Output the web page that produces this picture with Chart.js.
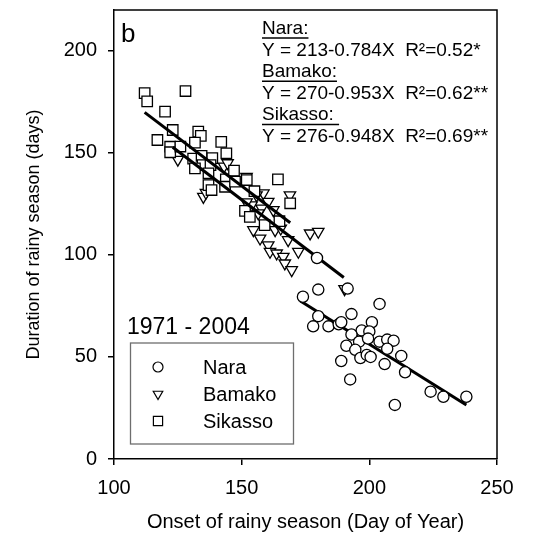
<!DOCTYPE html>
<html>
<head>
<meta charset="utf-8">
<script src="https://cdn.jsdelivr.net/npm/chart.js@4/dist/chart.umd.min.js"></script>
<style>
  html, body { margin: 0; padding: 0; background: #fff; }
  canvas { display: block; }
</style>
</head>
<body>
<canvas id="chart" width="533" height="541"></canvas>
<script>
// Onset (day of year) and duration (days) of the rainy season, 1971 - 2004
const naraOnset = [174, 180, 179.5, 204, 180, 178, 184, 188, 189, 193, 201, 197, 200, 193, 191, 196, 199.5, 204, 207, 209.5, 194.5, 196.5, 199, 200.5, 206, 207, 212.5, 214, 189, 192.5, 210, 224, 229, 238, 191.5];
const naraDuration = [79.5, 83, 98.5, 76, 70, 65, 65, 66, 67, 71, 67, 63, 62.5, 61, 55.5, 57.5, 59, 57.5, 58.5, 58, 53.5, 49.5, 51, 50, 46.5, 54, 50.5, 42.5, 48, 39, 26.5, 33, 30.5, 30.5, 83.5];

const bamakoOnset = [125, 135, 136, 143.1, 144.5, 151.9, 153.9, 151.9, 157.8, 156.5, 158.5, 160.4, 162.4, 155.8, 168.9, 154.6, 157.2, 160.4, 161.1, 163.7, 163.1, 165.3, 168.2, 166.3, 166.9, 169.6, 172.2, 176.8, 180, 190.3];
const bamakoDuration = [146.7, 128.5, 130.5, 143.4, 145, 138.3, 124.4, 125.8, 122.8, 120.4, 130.2, 126.1, 122, 129.3, 129.3, 112.2, 108.1, 104.8, 101.6, 100.8, 112.2, 113, 107.3, 99.1, 95.9, 92.6, 101.6, 110.6, 111.4, 83.3];

const sikassoOnset = [112, 113, 128, 120, 123, 117, 133, 134, 122, 122, 126, 131.7, 142, 144, 131, 134.3, 138.5, 134.7, 137.8, 131.7, 137, 143.8, 147, 137, 138.2, 143.5, 147.4, 152, 155, 164.2, 151.3, 153.2, 159, 164.8, 169];
const sikassoDuration = [179.3, 175.2, 180.3, 170.2, 161.2, 156.3, 160.4, 158.3, 153, 150.3, 153.1, 155, 155.4, 149.8, 147.2, 148.5, 147.4, 144, 144, 142.4, 140, 137, 141.3, 134.2, 131.8, 133.4, 135.9, 136.7, 131.2, 137, 121.6, 118.6, 114.6, 116.5, 125.3];

// Linear fits Y = a + bX (Nara, Bamako, Sikasso) and the onset range each spans
const stations = ['Nara', 'Bamako', 'Sikasso'];
const fitIntercept = [213, 270, 276];
const fitSlope = [-0.784, -0.953, -0.948];
const fitStart = [173, 123, 112];
const fitEnd = [238, 190, 169];
const fitR2 = ['0.52*', '0.62**', '0.69**'];

const xTicks = [100, 150, 200, 250];
const yTicks = [0, 50, 100, 150, 200];
const periodLabel = '1971 - 2004';
const panelLabel = 'b';

const FONT = "'Liberation Sans', Arial, sans-serif";

const toPoints = (xs, ys) => xs.map((x, i) => ({ x: x, y: ys[i] }));
const fitLine = i => [fitStart[i], fitEnd[i]].map(x => ({ x: x, y: fitIntercept[i] + fitSlope[i] * x }));

const markerStyles = [
  { pointStyle: 'circle', radius: 5.6, rotation: 0 },
  { pointStyle: 'triangle', radius: 6.6, rotation: 180 },
  { pointStyle: 'rect', radius: 7.4, rotation: 0 }
];

const pointSet = (label, data, m, order) => ({
  type: 'scatter',
  label: label,
  data: data,
  order: order,
  showLine: false,
  pointStyle: m.pointStyle,
  rotation: m.rotation,
  pointRadius: m.radius,
  pointHoverRadius: m.radius,
  pointBackgroundColor: '#fff',
  pointBorderColor: '#000',
  pointBorderWidth: 1.3
});

const lineSet = (i, order) => ({
  type: 'line',
  label: stations[i] + ' fit',
  data: fitLine(i),
  order: order,
  borderColor: '#000',
  borderWidth: 3,
  pointRadius: 0,
  fill: false,
  tension: 0
});

// Frame, annotations and legend drawn on top of the chart
const decorations = {
  id: 'decorations',
  afterDraw(chart) {
    const { ctx, chartArea: a } = chart;
    ctx.save();
    ctx.strokeStyle = '#000';
    ctx.lineWidth = 1.5;
    ctx.beginPath();
    ctx.moveTo(a.left, a.top);
    ctx.lineTo(a.right, a.top);
    ctx.lineTo(a.right, a.bottom);
    ctx.stroke();

    ctx.fillStyle = '#000';
    ctx.textBaseline = 'alphabetic';
    ctx.textAlign = 'left';

    ctx.font = '26px ' + FONT;
    ctx.fillText(panelLabel, 121, 42);

    // Regression equations
    ctx.font = '19px ' + FONT;
    const ex = 262;
    let yb = 34;
    const step = 21.6;
    for (let i = 0; i < stations.length; i++) {
      const head = stations[i] + ':';
      ctx.fillText(head, ex, yb);
      const w = ctx.measureText(head + (i === 2 ? ' ' : '')).width;
      ctx.lineWidth = 1.5;
      ctx.beginPath();
      ctx.moveTo(ex, yb + 4);
      ctx.lineTo(ex + w, yb + 4);
      ctx.stroke();
      yb += step;
      const eq = 'Y = ' + fitIntercept[i] + '-' + Math.abs(fitSlope[i]).toFixed(3) + 'X  R\u00B2=' + fitR2[i];
      ctx.fillText(eq, ex, yb);
      yb += step;
    }

    ctx.font = '23px ' + FONT;
    ctx.fillText(periodLabel, 127, 334);

    // Legend
    const lx = 130.5, ly = 343, lw = 163, lh = 101;
    ctx.strokeStyle = '#6e6e6e';
    ctx.lineWidth = 1.3;
    ctx.strokeRect(lx, ly, lw, lh);
    ctx.font = '20px ' + FONT;
    ctx.textBaseline = 'middle';
    const rows = [367, 394, 421];
    const legendMarkers = [
      { pointStyle: 'circle', radius: 5, rotation: 0 },
      { pointStyle: 'triangle', radius: 5.5, rotation: 180 },
      { pointStyle: 'rect', radius: 6.5, rotation: 0 }
    ];
    for (let i = 0; i < stations.length; i++) {
      ctx.fillStyle = '#fff';
      ctx.strokeStyle = '#000';
      ctx.lineWidth = 1.2;
      Chart.helpers.drawPoint(ctx, {
        pointStyle: legendMarkers[i].pointStyle,
        radius: legendMarkers[i].radius,
        rotation: legendMarkers[i].rotation,
        borderWidth: 1.2
      }, 158, rows[i]);
      ctx.fillStyle = '#000';
      ctx.fillText(stations[i], 203, rows[i] + 1);
    }
    ctx.restore();
  }
};

new Chart(document.getElementById('chart'), {
  data: {
    datasets: [
      pointSet('Nara', toPoints(naraOnset, naraDuration), markerStyles[0], 0),
      lineSet(0, 1),
      lineSet(1, 2),
      lineSet(2, 3),
      pointSet('Sikasso', toPoints(sikassoOnset, sikassoDuration), markerStyles[2], 4),
      pointSet('Bamako', toPoints(bamakoOnset, bamakoDuration), markerStyles[1], 5)
    ]
  },
  options: {
    responsive: false,
    animation: false,
    devicePixelRatio: 1,
    layout: { padding: { left: 0, right: 36, top: 10, bottom: 0 } },
    plugins: {
      legend: { display: false },
      tooltip: { enabled: false }
    },
    scales: {
      x: {
        type: 'linear',
        min: 100,
        max: 250,
        afterFit(s) { s.height = 82; s.paddingLeft = 0; s.paddingRight = 0; },
        afterBuildTicks(s) { s.ticks = xTicks.map(v => ({ value: v })); },
        ticks: { color: '#000', font: { family: FONT, size: 20 }, padding: 11, maxRotation: 0 },
        grid: { drawOnChartArea: false, drawTicks: true, tickLength: 6, color: '#000', lineWidth: 1.5 },
        border: { display: true, color: '#000', width: 1.5 },
        title: {
          display: true,
          text: 'Onset of rainy season (Day of Year)',
          color: '#000',
          font: { family: FONT, size: 20 },
          padding: { top: 0, bottom: 7 }
        }
      },
      y: {
        type: 'linear',
        min: 0,
        max: 220,
        afterFit(s) { s.width = 114; s.paddingTop = 0; s.paddingBottom = 0; },
        afterBuildTicks(s) { s.ticks = yTicks.map(v => ({ value: v })); },
        ticks: { color: '#000', font: { family: FONT, size: 20 }, padding: 11 },
        grid: { drawOnChartArea: false, drawTicks: true, tickLength: 6, color: '#000', lineWidth: 1.5 },
        border: { display: true, color: '#000', width: 1.5 },
        title: {
          display: true,
          text: 'Duration of rainy season (days)',
          color: '#000',
          font: { family: FONT, size: 18 },
          padding: { top: 23, bottom: 0 }
        }
      }
    }
  },
  plugins: [decorations]
});
</script>
</body>
</html>
